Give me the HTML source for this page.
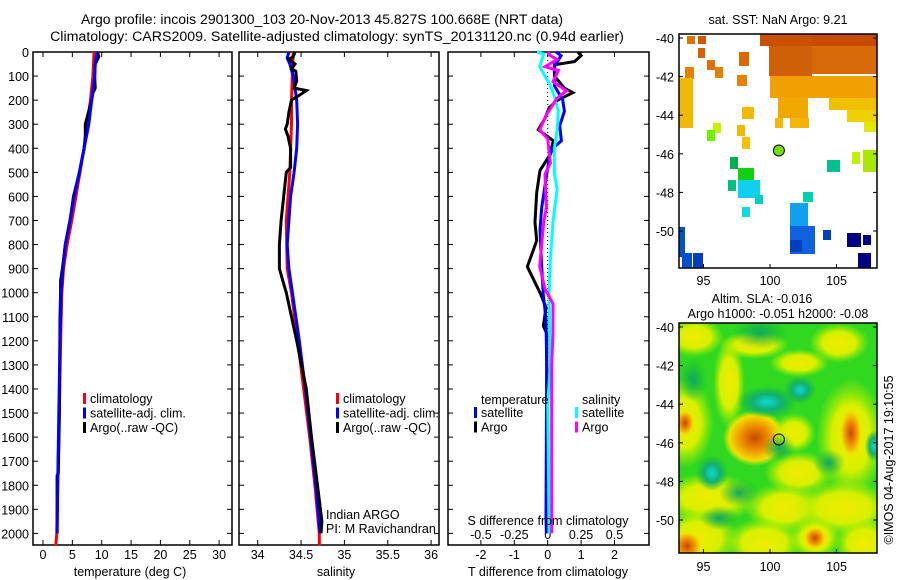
<!DOCTYPE html>
<html><head><meta charset="utf-8">
<style>
html,body{margin:0;padding:0;background:#fff;}
svg{display:block;font-family:"Liberation Sans",sans-serif;}
text{fill:#000;}
</style></head>
<body>
<svg id="fig" width="900" height="580" viewBox="0 0 900 580" xmlns="http://www.w3.org/2000/svg">
<defs>
 <radialGradient id="gOr"><stop offset="0" stop-color="#c84800"/><stop offset="0.45" stop-color="#f09000"/><stop offset="0.8" stop-color="#f0e000"/><stop offset="1" stop-color="#e8f000" stop-opacity="0"/></radialGradient>
 <radialGradient id="gYe"><stop offset="0" stop-color="#f0ec00"/><stop offset="0.55" stop-color="#d8f000"/><stop offset="1" stop-color="#b0f000" stop-opacity="0"/></radialGradient>
 <radialGradient id="gTe"><stop offset="0" stop-color="#10d8d8"/><stop offset="0.5" stop-color="#10b070"/><stop offset="1" stop-color="#10b050" stop-opacity="0"/></radialGradient>
 <radialGradient id="gDg"><stop offset="0" stop-color="#10a860"/><stop offset="1" stop-color="#10b040" stop-opacity="0"/></radialGradient>
 <clipPath id="clipSla"><rect x="679" y="323" width="198" height="230"/></clipPath>
 <clipPath id="clipSst"><rect x="679" y="34" width="198" height="234"/></clipPath>
</defs>
<text x="322" y="24" font-size="14" text-anchor="middle">Argo profile: incois 2901300_103 20-Nov-2013 45.827S 100.668E (NRT data)</text>
<text x="337" y="41" font-size="14.2" text-anchor="middle">Climatology: CARS2009. Satellite-adjusted climatology: synTS_20131120.nc (0.94d earlier)</text>
<g id="p1"></g>
<g id="p2"></g>
<g id="p3"></g>
<g id="m1"></g>
<g id="m2"></g>
<text transform="translate(893,460) rotate(-90)" font-size="12.5" text-anchor="middle">©IMOS 04-Aug-2017 19:10:55</text>
</svg>
<script>
// ---- data ----
const tClimDepth=[0,100,200,300,400,500,600,700,800,900,1000,1200,1400,1600,1800,2000,2050];
const tClimVals=[8.7,8.5,8.1,7.5,7.0,6.3,5.6,4.9,4.1,3.5,3.2,3.0,2.85,2.7,2.5,2.35,2.2];
const tSatDepth=[0,50,100,200,300,400,500,600,700,800,900,1000,1200,1500,1800,2000];
const tSatVals=[9.2,8.9,8.8,8.3,7.8,7.0,6.2,5.3,4.6,3.8,3.4,3.1,2.9,2.7,2.5,2.4];
const tArgoDepth=[0,20,50,100,150,170,200,300,350,400,500,600,700,800,900,950,1000,1100,1500,1750,1760,2000];
const tArgoVals=[9.3,9.5,8.9,8.8,8.9,8.5,8.3,7.2,7.2,7.0,6.2,5.2,4.6,3.8,3.3,3.0,3.0,2.9,2.8,2.6,2.4,2.4];
const sClimDepth=[0,200,300,500,700,900,1000,1200,1400,1600,1800,2000,2050];
const sClimVals=[34.41,34.39,34.39,34.37,34.33,34.34,34.39,34.46,34.53,34.60,34.66,34.71,34.71];
const sSatDepth=[0,25,50,100,200,300,400,500,600,700,800,900,1000,1200,1400,1600,1800,2000];
const sSatVals=[34.36,34.34,34.37,34.41,34.45,34.46,34.45,34.42,34.38,34.36,34.34,34.36,34.40,34.48,34.55,34.61,34.67,34.72];
const sArgoDepth=[0,20,30,50,70,80,120,150,160,180,200,250,300,320,350,400,480,500,600,700,800,900,950,1000,1200,1400,1600,1800,1950,2000];
const sArgoVals=[34.43,34.41,34.36,34.43,34.39,34.44,34.45,34.42,34.56,34.48,34.39,34.36,34.34,34.32,34.35,34.38,34.38,34.33,34.30,34.27,34.25,34.25,34.29,34.33,34.45,34.56,34.62,34.69,34.74,34.73];
const dTArgoDepth=[0,15,40,53,100,150,169,200,230,280,323,369,431,492,584,707,784,892,1000,1061,1138,1169,1300,1700,2000];
const dTArgoVals=[0.9,1.0,0.8,0.2,0.2,0.5,0.75,0.3,0.05,-0.1,-0.28,0.17,0.05,-0.23,-0.33,-0.38,-0.33,-0.61,-0.23,-0.05,-0.13,-0.03,-0.03,-0.02,0];
const dTSatDepth=[0,15,60,92,140,199,246,307,369,400,431,508,646,738,892,1015,1107,1300,1939,2000];
const dTSatVals=[0.25,0.4,0.2,0.25,0.2,0.45,0.5,0.36,0.41,0.16,0.06,-0.03,-0.18,-0.23,-0.18,-0.13,-0.05,-0.03,-0.05,-0.04];
const dSSatDepth=[0,8,61,140,184,246,323,400,508,569,707,861,1015,1300,1462,1700,2000];
const dSSatVals=[-0.08,-0.03,-0.06,0.02,0.05,0.08,0.07,0.05,0.05,0.07,0.04,0.02,0.01,0.02,0,0.005,0.01];
const dSArgoDepth=[0,15,31,61,77,123,161,192,261,323,361,461,508,646,707,892,984,1046,1169,1300,1600,2000];
const dSArgoVals=[0.0,0.02,0.07,-0.02,0.08,0.04,0.14,0.07,-0.01,-0.06,0.0,0.02,-0.02,-0.01,-0.03,-0.06,-0.02,0.04,0.04,0.03,0.03,0.03];
const depthTicks=[0,100,200,300,400,500,600,700,800,900,1000,1100,1200,1300,1400,1500,1600,1700,1800,1900,2000];
const tempTicks=[0,5,10,15,20,25,30];
const salTicks=[34,34.5,35,35.5,36];
const salTickLabels=["34","34.5","35","35.5","36"];
const dTTicks=[-2,-1,0,1,2];
const dSTicks=[-0.5,-0.25,0,0.25,0.5];
const latTicks=[-40,-42,-44,-46,-48,-50];
const lonTicks=[95,100,105];
const argoLon=100.668, argoLat=-45.827;

const FS=12.5;
const NS="http://www.w3.org/2000/svg";
function mk(parent,tag,attrs,txt){const e=document.createElementNS(NS,tag);for(const k in attrs)e.setAttribute(k,attrs[k]);if(txt!==undefined)e.textContent=txt;parent.appendChild(e);return e;}
const top0=52,bot0=545;
const yD=d=>top0+d*0.2407;
const xT=t=>43+t*5.87;
const xS=s=>257.7+(s-34)*86.7;
const xDT=t=>547.7+t*33.4;
const xDS=s=>547.7+s*133.6;

function frame(g,x0,x1,withLabels){
  const r=mk(g,'rect',{x:x0,y:top0,width:x1-x0,height:bot0-top0,fill:'none',stroke:'#000','stroke-width':1.5});
  
  
  depthTicks.forEach(d=>{
    const y=yD(d);
    mk(g,'line',{x1:x0,x2:x0+5,y1:y,y2:y,stroke:'#000'});
    mk(g,'line',{x1:x1,x2:x1-5,y1:y,y2:y,stroke:'#000'});
    if(withLabels){const t=mk(g,'text',{x:x0-4,y:y+5,'font-size':FS,'text-anchor':'end'},String(d));
      
      }
  });
}
function xticks(g,vals,labels,fx,yLab){
  vals.forEach((v,i)=>{const x=fx(v);
    mk(g,'line',{x1:x,x2:x,y1:bot0,y2:bot0-5,stroke:'#000'});
    mk(g,'line',{x1:x,x2:x,y1:top0,y2:top0+5,stroke:'#000'});
    if(yLab){const t=mk(g,'text',{x:x,y:yLab,'font-size':FS,'text-anchor':'middle'},labels[i]);
      
      }
  });
}
function line(g,depths,vals,fx,color,name,x0,x1){
  const pts=depths.map((d,i)=>Math.max(x0,Math.min(x1,fx(vals[i]))).toFixed(1)+','+yD(d).toFixed(1)).join(' ');
  const p=mk(g,'polyline',{points:pts,fill:'none',stroke:color,'stroke-width':3,'stroke-linejoin':'miter'});
  
  
}
function legend(g,x,y,items){
  items.forEach((it,i)=>{
    mk(g,'rect',{x:x,y:y+i*14.5-6,width:3,height:11,fill:it[1]});
    const t=mk(g,'text',{x:x+7,y:y+i*14.5+4,'font-size':FS},it[0]);
    
    
  });
}
// panel 1
const p1=document.getElementById('p1');
frame(p1,33,232,true);
xticks(p1,tempTicks,tempTicks.map(String),xT,559);
line(p1,tClimDepth,tClimVals,xT,'#ff0000','climatology-temp-line',33,232);
line(p1,tArgoDepth,tArgoVals,xT,'#000000','argo-temp-line',33,232);
line(p1,tSatDepth,tSatVals,xT,'#0000ff','satellite-temp-line',33,232);
legend(p1,83,399,[['climatology','#ff0000'],['satellite-adj. clim.','#0000ff'],['Argo(..raw -QC)','#000']]);
mk(p1,'text',{x:130,y:576,'font-size':FS,'text-anchor':'middle',},'temperature (deg C)');
// panel 2
const p2=document.getElementById('p2');
frame(p2,239,439,false);
xticks(p2,salTicks,salTickLabels,xS,559);
line(p2,sClimDepth,sClimVals,xS,'#ff0000','climatology-sal-line',239,439);
line(p2,sSatDepth,sSatVals,xS,'#0000ff','satellite-sal-line',239,439);
line(p2,sArgoDepth,sArgoVals,xS,'#000000','argo-sal-line',239,439);
legend(p2,336,399,[['climatology','#ff0000'],['satellite-adj. clim.','#0000ff'],['Argo(..raw -QC)','#000']]);
mk(p2,'text',{x:326,y:519,'font-size':FS,},'Indian ARGO');
mk(p2,'text',{x:326,y:533,'font-size':FS,},'PI: M Ravichandran');
mk(p2,'text',{x:336,y:576,'font-size':FS,'text-anchor':'middle',},'salinity');
// panel 3
const p3=document.getElementById('p3');
frame(p3,448,649,false);
xticks(p3,dTTicks,dTTicks.map(String),xDT,559);
dSTicks.forEach(v=>{const t=mk(p3,'text',{x:xDS(v),y:539,'font-size':FS,'text-anchor':'middle'},String(v));
  
  });
mk(p3,'line',{x1:xDT(0),x2:xDT(0),y1:yD(0),y2:yD(1350),stroke:'#000','stroke-dasharray':'1,3','stroke-width':1,});
line(p3,dTArgoDepth,dTArgoVals,xDT,'#000000','argo-temp-diff-line',448,649);
line(p3,dTSatDepth,dTSatVals,xDT,'#0000ff','satellite-temp-diff-line',448,649);
line(p3,dSSatDepth,dSSatVals,xDS,'#00ffff','satellite-sal-diff-line',448,649);
line(p3,dSArgoDepth,dSArgoVals,xDS,'#ff00ff','argo-sal-diff-line',448,649);
mk(p3,'text',{x:481,y:404,'font-size':FS,},'temperature');
mk(p3,'text',{x:582,y:404,'font-size':FS,},'salinity');
legend(p3,474,413,[['satellite','#0000ff'],['Argo','#000']]);
legend(p3,575,413,[['satellite','#00ffff'],['Argo','#ff00ff']]);
mk(p3,'text',{x:548,y:525,'font-size':FS,'text-anchor':'middle',},'S difference from climatology');
mk(p3,'text',{x:548,y:576,'font-size':FS,'text-anchor':'middle',},'T difference from climatology');

// maps
const mx=lon=>770+(lon-100)*13.3;
function mapAxes(g,y0,y1,latY,labY){
  const r=mk(g,'rect',{x:679,y:y0,width:198,height:y1-y0,fill:'none',stroke:'#000','stroke-width':1.5});
  
  
  latTicks.forEach(l=>{const y=latY(l);
    mk(g,'line',{x1:679,x2:683,y1:y,y2:y,stroke:'#000'});mk(g,'line',{x1:877,x2:873,y1:y,y2:y,stroke:'#000'});
    const t=mk(g,'text',{x:674,y:y+5,'font-size':FS,'text-anchor':'end'},String(l));
    
    });
  lonTicks.forEach(l=>{const x=mx(l);
    mk(g,'line',{x1:x,x2:x,y1:y1,y2:y1-4,stroke:'#000'});
    const t=mk(g,'text',{x:x,y:labY,'font-size':FS,'text-anchor':'middle'},String(l));
    
    });
}
// SST map
const m1=document.getElementById('m1');
mk(m1,'text',{x:778,y:24,'font-size':FS,'text-anchor':'middle',},'sat. SST: NaN Argo: 9.21');
const sst=mk(m1,'g',{'clip-path':'url(#clipSst)'});
const sstCells=[[133,34,65,12,'#c84a00'],[133,46,65,28,'#d86a08'],[81,34,52,12,'#c85000'],[90,46,43,30,'#d06008'],[91,76,107,22,'#f0a000'],[150,98,48,12,'#f0c000'],[168,110,30,12,'#f0d000'],[185,122,13,10,'#e0e800'],
[99,98,30,20,'#f0a800'],[111,118,15,10,'#f5b800'],
[8,36,8,8,'#e07000'],[19,36,8,8,'#d05800'],[19,48,7,10,'#d86000'],[28,60,8,10,'#e07000'],[36,67,8,11,'#e88000'],[6,67,9,12,'#e88000'],[60,52,10,14,'#d86a00'],[58,75,10,11,'#e88000'],
[0,78,14,50,'#f0b800'],[63,107,12,12,'#f5b800'],[58,125,8,11,'#f5b800'],[63,137,8,12,'#f8c000'],[96,118,8,10,'#f5b800'],[121,118,9,10,'#f5b000'],
[34,123,8,10,'#c8f000'],[28,130,8,11,'#70f000'],[51,157,8,12,'#00b050'],[59,168,16,12,'#10d010'],[49,180,8,11,'#00c080'],[59,180,22,18,'#10d0f0'],[76,195,8,9,'#00d0c0'],[63,207,8,10,'#10d8e0'],
[124,192,10,10,'#00d0b0'],[148,160,13,12,'#00c090'],[173,152,8,12,'#c0f000'],[184,150,14,22,'#a8e800'],
[111,203,18,28,'#10a0f0'],[111,226,25,28,'#1060e0'],[111,240,12,12,'#0040c0'],[144,230,8,10,'#0040c0'],[168,233,14,14,'#000080'],[184,235,8,10,'#000080'],[179,253,13,15,'#000080'],
[0,227,6,30,'#0050d0'],[3,253,10,15,'#0050d0'],[14,253,10,15,'#0040c0']];
sstCells.forEach(c=>{const r=mk(sst,'rect',{x:679+c[0],y:c[1],width:c[2],height:c[3],fill:c[4]});
  
  });
const latY1=l=>38+(-40-l)*19.3;
mapAxes(m1,34,268,latY1,285);
mk(m1,'circle',{cx:mx(argoLon),cy:latY1(argoLat),r:5.5,fill:'#70e000',stroke:'#000','stroke-width':1,});
// SLA map
const m2=document.getElementById('m2');
mk(m2,'text',{x:762,y:303,'font-size':FS,'text-anchor':'middle',},'Altim. SLA: -0.016');
mk(m2,'text',{x:778,y:318,'font-size':FS,'text-anchor':'middle',},'Argo h1000: -0.051 h2000: -0.08');
const sla=mk(m2,'g',{'clip-path':'url(#clipSla)'});
mk(sla,'rect',{x:679,y:323,width:198,height:230,fill:'#30d820'});
const blobs=[[15,14,30,20,'gYe'],[75,22,35,14,'gYe'],[120,40,30,14,'gYe'],[160,20,30,20,'gYe'],[5,100,30,45,'gYe'],[6,100,10,14,'gOr'],[50,60,16,45,'gYe'],
[76,115,32,28,'gOr'],[115,110,22,20,'gYe'],[172,115,35,60,'gYe'],[172,110,12,26,'gOr'],[120,150,35,22,'gYe'],[30,175,50,25,'gYe'],[105,185,40,25,'gYe'],[165,185,50,28,'gYe'],
[20,215,40,30,'gYe'],[8,223,16,16,'gOr'],[85,220,40,25,'gYe'],[136,215,26,22,'gYe'],[136,215,12,12,'gOr'],[185,220,30,25,'gYe'],
[88,79,30,16,'gTe'],[121,67,16,14,'gTe'],[33,150,16,18,'gTe'],[195,123,9,16,'gTe'],[14,57,14,22,'gDg'],[81,10,28,16,'gDg'],[100,125,16,14,'gDg'],[150,140,16,14,'gDg'],[60,170,20,14,'gDg'],[40,195,20,12,'gDg']];
blobs.forEach(b=>{const e=mk(sla,'ellipse',{cx:679+b[0],cy:323+b[1],rx:b[2],ry:b[3],fill:'url(#'+b[4]+')'});
  
  });
const latY2=l=>327+(-40-l)*19.3;
mapAxes(m2,323,553,latY2,571);
mk(m2,'circle',{cx:mx(argoLon),cy:latY2(argoLat),r:5.5,fill:'none',stroke:'#000','stroke-width':1,});
</script>
</body></html>
